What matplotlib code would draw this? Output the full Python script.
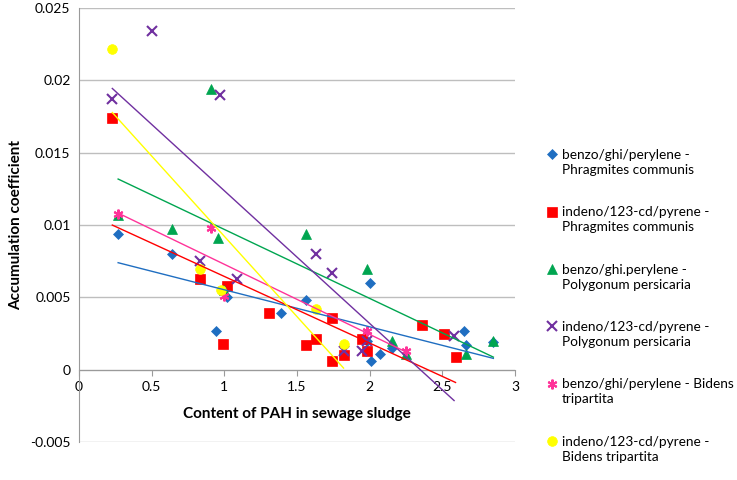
import numpy as np
import matplotlib
matplotlib.use("Agg")
import matplotlib.pyplot as plt
from matplotlib.legend_handler import HandlerLine2D

plt.rcParams['font.family'] = ['Lato', 'DejaVu Sans']

# benzo/ghi/perylene - Phragmites communis
x_bp_phr = [0.27, 0.64, 0.94, 1.02, 1.39, 1.56, 1.98, 2.00, 2.01, 2.07, 2.15, 2.65, 2.66, 2.85]
y_bp_phr = [0.0094, 0.0080, 0.0027, 0.0050, 0.0039, 0.0048, 0.0020, 0.0060, 0.0006, 0.0011, 0.0015, 0.0027, 0.0017, 0.0019]

# indeno/123-cd/pyrene - Phragmites communis
x_ip_phr = [0.23, 0.83, 1.02, 0.99, 1.31, 1.56, 1.63, 1.74, 1.74, 1.82, 1.95, 1.98, 2.36, 2.51, 2.59]
y_ip_phr = [0.0174, 0.0063, 0.0058, 0.0018, 0.0039, 0.0017, 0.0021, 0.0036, 0.0006, 0.0010, 0.0021, 0.0013, 0.0031, 0.0025, 0.0009]

# benzo/ghi.perylene - Polygonum persicaria
x_bp_pol = [0.27, 0.64, 0.91, 0.96, 1.00, 1.56, 1.98, 2.15, 2.25, 2.66, 2.85]
y_bp_pol = [0.0107, 0.0097, 0.0194, 0.0091, 0.0055, 0.0094, 0.0070, 0.0020, 0.0011, 0.0011, 0.0020]

# indeno/123-cd/pyrene - Polygonum persicaria
x_ip_pol = [0.23, 0.50, 0.97, 0.83, 1.09, 1.63, 1.74, 1.82, 1.95, 1.98, 2.58]
y_ip_pol = [0.0187, 0.0234, 0.0190, 0.0075, 0.0063, 0.0080, 0.0067, 0.0013, 0.0013, 0.0020, 0.0023]

# benzo/ghi/perylene - Bidens tripartita
x_bp_bid = [0.27, 0.91, 1.00, 1.98, 2.25]
y_bp_bid = [0.0108, 0.0098, 0.0051, 0.00265, 0.00127]

# indeno/123-cd/pyrene - Bidens tripartita
x_ip_bid = [0.23, 0.83, 0.98, 1.63, 1.82]
y_ip_bid = [0.0222, 0.0070, 0.0055, 0.0042, 0.0018]

series = [
    (x_bp_phr, y_bp_phr, "benzo/ghi/perylene -\nPhragmites communis", '#1F6EC1', 'D', 5),
    (x_ip_phr, y_ip_phr, "indeno/123-cd/pyrene -\nPhragmites communis", '#FF0000', 's', 6.5),
    (x_bp_pol, y_bp_pol, "benzo/ghi.perylene -\nPolygonum persicaria", '#00A550', '^', 6.5),
    (x_ip_pol, y_ip_pol, "indeno/123-cd/pyrene -\nPolygonum persicaria", '#7030A0', 'x', 6.5),
    (x_bp_bid, y_bp_bid, "benzo/ghi/perylene - Bidens\ntripartita", '#FF3399', (6, 2, 0), 7),
    (x_ip_bid, y_ip_bid, "indeno/123-cd/pyrene -\nBidens tripartita", '#FFFF00', 'o', 7),
]


class FirstLineHandler(HandlerLine2D):
    # put the legend marker level with the first text line
    def create_artists(self, legend, orig_handle, xdescent, ydescent,
                       width, height, fontsize, trans):
        arts = super().create_artists(legend, orig_handle, xdescent, ydescent,
                                      width, height, fontsize, trans)
        for a in arts:
            a.set_ydata(np.asarray(a.get_ydata()) + 0.62 * fontsize)
        return arts


fig = plt.figure(figsize=(7.37, 4.8), dpi=100)
ax = fig.add_axes([0.107, 0.079, 0.592, 0.904])

handles = []
for xs, ys, lab, col, mk, ms in series:
    h, = ax.plot(xs, ys, linestyle='none', marker=mk, color=col, markersize=ms,
                 markeredgewidth=1.5 if (mk == 'x' or isinstance(mk, tuple)) else 0.5,
                 label=lab, zorder=3)
    handles.append(h)
for xs, ys, lab, col, mk, ms in series:
    k, b = np.polyfit(xs, ys, 1)
    xl = np.array([min(xs), max(xs)])
    ax.plot(xl, k * xl + b, color=col, linewidth=1.0, zorder=4)

ax.set_xlim(0, 3)
ax.set_ylim(-0.005, 0.025)
ax.set_xticks([0, 0.5, 1, 1.5, 2, 2.5, 3])
ax.set_xticklabels(['0', '0.5', '1', '1.5', '2', '2.5', '3'])
ax.set_yticks([-0.005, 0, 0.005, 0.01, 0.015, 0.02, 0.025])
ax.set_yticklabels(['-0.005', '0', '0.005', '0.01', '0.015', '0.02', '0.025'])

ax.grid(axis='y', color='#BEBEBE', linewidth=1.0)
ax.set_axisbelow(True)
ax.spines['top'].set_visible(False)
ax.spines['right'].set_visible(False)
ax.spines['bottom'].set_position(('data', 0))
ax.spines['bottom'].set_color('#9A9A9A')
ax.spines['left'].set_color('#9A9A9A')
ax.tick_params(axis='x', direction='out', length=4, color='#9A9A9A', labelsize=10, pad=4)
ax.tick_params(axis='y', length=0, labelsize=10, pad=6)

ax.set_xlabel("Content of PAH in sewage sludge", fontsize=11, fontweight='bold')
ax.xaxis.set_label_coords(0.5, 0.081)
ax.set_ylabel("Accumulation coefficient", fontsize=11, fontweight='bold')
ax.yaxis.set_label_coords(-0.128, 0.5)

leg = fig.legend(handles=handles, loc='upper left', bbox_to_anchor=(0.733, 0.701),
                 frameon=False, fontsize=9.8, labelspacing=2.23, handletextpad=0.2,
                 handlelength=1.0, borderaxespad=0,
                 handler_map={h: FirstLineHandler() for h in handles})
for t in leg.get_texts():
    t.set_linespacing(1.3)

fig.savefig("out.png", dpi=100)
